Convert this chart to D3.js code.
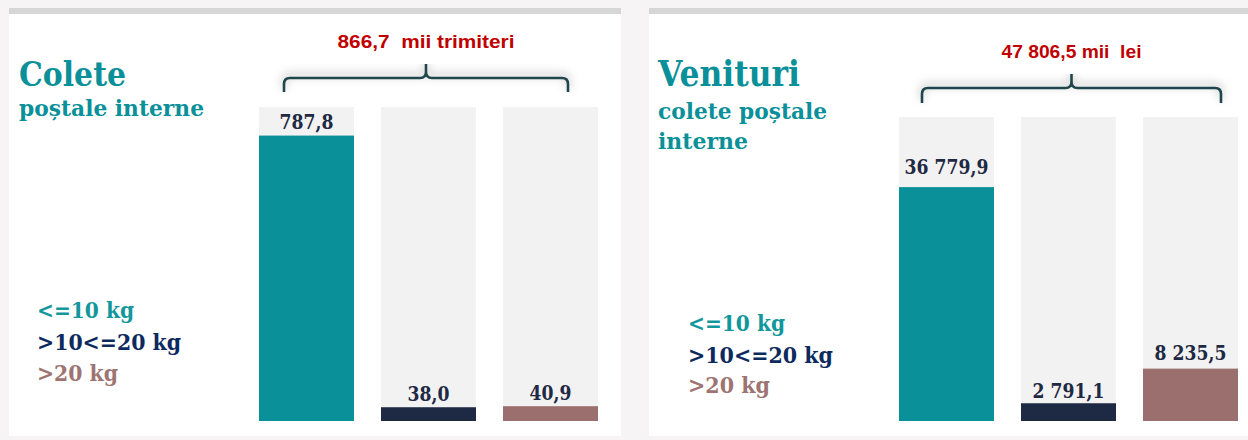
<!DOCTYPE html>
<html>
<head>
<meta charset="utf-8">
<script src="https://cdn.jsdelivr.net/npm/d3@7"></script>
<style>
  body { margin: 0; background: #f6f4f4; }
  svg { display: block; }
</style>
</head>
<body>
<div id="chart-area"></div>
<script>
// Chart data
let categories = ["<=10 kg", ">10<=20 kg", ">20 kg"];
let coleteValues = [787.8, 38.0, 40.9];
let coleteLabels = ["787,8", "38,0", "40,9"];
let coleteTotal = 866.7;
let coleteTotalLabel = "866,7  mii trimiteri";
let venituriValues = [36779.9, 2791.1, 8235.5];
let venituriLabels = ["36 779,9", "2 791,1", "8 235,5"];
let venituriTotal = 47806.5;
let venituriTotalLabel = "47 806,5 mii  lei";
let coleteTitle = ["Colete", "poștale interne"];
let venituriTitle = ["Venituri", "colete poștale", "interne"];

let colors = ["#0a9099", "#1e2943", "#9a6f6d"];
let legendColors = ["#12979c", "#0d2a5e", "#9e7472"];

let width = 1248, height = 440;
let serif = "DejaVu Serif, serif";

let svg = d3.select("#chart-area")
	.append("svg")
	.attr("width", width)
	.attr("height", height);

// soft shadow for the braces
let defs = svg.append("defs");
let blur = defs.append("filter").attr("id", "glow")
	.attr("x", "-10%").attr("y", "-200%").attr("width", "120%").attr("height", "500%");
blur.append("feGaussianBlur").attr("stdDeviation", 4);

// fit text to a target width
function fit(sel, w) {
	sel.attr("textLength", w).attr("lengthAdjust", "spacingAndGlyphs");
}
// squeeze text horizontally by a factor
function squeeze(sel, k) {
	sel.each(function() {
		let w = this.getComputedTextLength();
		d3.select(this).attr("textLength", w * k).attr("lengthAdjust", "spacingAndGlyphs");
	});
}

let panels = [
	{
		x0: 9, x1: 621, values: coleteValues, labels: coleteLabels, total: coleteTotal,
		totalLabel: coleteTotalLabel, title: coleteTitle, yTop: 107,
		titleX: 19, titleY: [86, 116], titleSize: [34, 23], titleW: [107, 185],
		legendX: 37, legendY: [318, 350, 381], legendW: [97, 144, 81],
		brace: {x1: 284, x2: 568, y: 78, yEnd: 92, yTip: 64}, headY: 48, headW: 177,
		labelOff: [7, 6, 6]
	},
	{
		x0: 649, x1: 1248, values: venituriValues, labels: venituriLabels, total: venituriTotal,
		totalLabel: venituriTotalLabel, title: venituriTitle, yTop: 117,
		titleX: 658, titleY: [86, 119, 149], titleSize: [35, 23, 23], titleW: [142, 169, 90],
		legendX: 688, legendY: [331, 363, 393], legendW: [97, 145, 82],
		brace: {x1: 922, x2: 1221, y: 88, yEnd: 103, yTip: 74}, headY: 58, headW: 140,
		labelOff: [13, 5, 9]
	}
];

let baseY = 421;

panels.forEach(p => {
	let g = svg.append("g");

	// white panel with gray top strip
	g.append("rect")
		.attr("x", p.x0).attr("y", 8)
		.attr("width", p.x1 - p.x0).attr("height", 428)
		.attr("fill", "#ffffff");
	g.append("rect")
		.attr("x", p.x0).attr("y", 8)
		.attr("width", p.x1 - p.x0).attr("height", 6)
		.attr("fill", "#d6d6d6");

	let start = p.x0 + 250;
	let x = d3.scaleBand()
		.domain(categories)
		.range([start, start + 3 * 122 - 27])
		.paddingInner(27 / 122)
		.paddingOuter(0);

	let y = d3.scaleLinear()
		.domain([0, p.total])
		.range([baseY, p.yTop]);

	// background bars = total
	g.selectAll(".bg")
		.data(categories)
		.enter()
		.append("rect")
		.attr("x", d => x(d))
		.attr("y", y(p.total))
		.attr("width", x.bandwidth())
		.attr("height", y(0) - y(p.total))
		.attr("fill", "#f2f2f2");

	g.selectAll(".bar")
		.data(p.values)
		.enter()
		.append("rect")
		.attr("x", (d, i) => x(categories[i]))
		.attr("y", d => y(d))
		.attr("width", x.bandwidth())
		.attr("height", d => y(0) - y(d))
		.attr("fill", (d, i) => colors[i]);

	g.selectAll(".lbl")
		.data(p.values)
		.enter()
		.append("text")
		.attr("x", (d, i) => x(categories[i]) + x.bandwidth() / 2)
		.attr("y", (d, i) => y(d) - p.labelOff[i])
		.attr("text-anchor", "middle")
		.attr("font-family", serif)
		.attr("font-weight", "bold")
		.attr("font-size", 20)
		.attr("fill", "#1e2943")
		.text((d, i) => p.labels[i])
		.call(squeeze, 0.86);

	// titles
	p.title.forEach((t, i) => {
		g.append("text")
			.attr("x", p.titleX)
			.attr("y", p.titleY[i])
			.attr("font-family", serif)
			.attr("font-weight", "bold")
			.attr("font-size", p.titleSize[i])
			.attr("fill", "#0a9099")
			.text(t)
			.call(fit, p.titleW[i]);
	});

	// legend
	categories.forEach((c, i) => {
		g.append("text")
			.attr("x", p.legendX)
			.attr("y", p.legendY[i])
			.attr("font-family", serif)
			.attr("font-weight", "bold")
			.attr("font-size", 22)
			.attr("fill", legendColors[i])
			.text(c)
			.call(fit, p.legendW[i]);
	});

	// brace
	let b = p.brace, r = 6, xc = (b.x1 + b.x2) / 2;
	let braceD = "M" + b.x1 + "," + b.yEnd +
		"L" + b.x1 + "," + (b.y + r) +
		"Q" + b.x1 + "," + b.y + " " + (b.x1 + r) + "," + b.y +
		"L" + (xc - r) + "," + b.y +
		"Q" + xc + "," + b.y + " " + xc + "," + (b.y - r) +
		"L" + xc + "," + b.yTip +
		"M" + xc + "," + (b.y - r) +
		"Q" + xc + "," + b.y + " " + (xc + r) + "," + b.y +
		"L" + (b.x2 - r) + "," + b.y +
		"Q" + b.x2 + "," + b.y + " " + b.x2 + "," + (b.y + r) +
		"L" + b.x2 + "," + b.yEnd;

	g.append("path")
		.attr("d", braceD)
		.attr("transform", "translate(0,-3)")
		.attr("fill", "none")
		.attr("stroke", "#9a9a9a")
		.attr("stroke-width", 5)
		.attr("opacity", 0.45)
		.attr("filter", "url(#glow)");
	// white patch above the tip, like the original's text box
	g.append("rect")
		.attr("x", xc - 95).attr("y", b.yTip - 30)
		.attr("width", 190).attr("height", 30)
		.attr("fill", "#ffffff");
	g.append("path")
		.attr("d", braceD)
		.attr("fill", "none")
		.attr("stroke", "#1f464c")
		.attr("stroke-width", 2.6);

	g.append("text")
		.attr("x", xc)
		.attr("y", p.headY)
		.attr("text-anchor", "middle")
		.attr("font-family", "Liberation Sans Narrow, Liberation Sans, sans-serif")
		.attr("font-weight", "bold")
		.attr("font-size", 19)
		.attr("fill", "#c00000")
		.style("white-space", "pre")
		.text(p.totalLabel)
		.call(fit, p.headW);
});
</script>
</body>
</html>
